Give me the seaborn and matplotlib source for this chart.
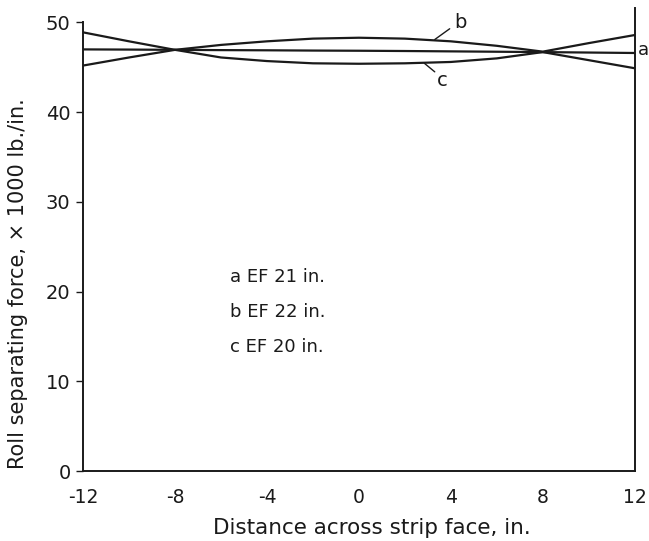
import matplotlib
matplotlib.use("Agg")
import matplotlib.pyplot as plt
import seaborn as sns
import pandas as pd

x_vals = [-12, -10, -8, -6, -4, -2, 0, 2, 4, 6, 8, 10, 12]
a_vals = [47.0, 46.98, 46.95, 46.92, 46.9, 46.87, 46.85, 46.82, 46.78, 46.74, 46.7, 46.65, 46.6]
b_vals = [48.9, 47.9, 46.95, 47.5, 47.9, 48.2, 48.3, 48.2, 47.9, 47.4, 46.75, 47.7, 48.6]
c_vals = [45.2, 46.1, 46.95, 46.1, 45.7, 45.45, 45.4, 45.45, 45.6, 46.0, 46.7, 45.8, 44.9]

legend_lines = ["a EF 21 in.", "b EF 22 in.", "c EF 20 in."]
x_ticks = [-12, -8, -4, 0, 4, 8, 12]
y_ticks = [0, 10, 20, 30, 40, 50]

df = pd.DataFrame({
    "x": x_vals * 3,
    "y": a_vals + b_vals + c_vals,
    "curve": ["a"] * len(x_vals) + ["b"] * len(x_vals) + ["c"] * len(x_vals),
})

sns.set_style("white")
plt.rcParams["font.family"] = ["DejaVu Sans"]
ink = "#1a1a1a"

fig = plt.figure(figsize=(6.49, 5.41), dpi=100)
ax = fig.add_axes([0.128, 0.129, 0.85, 0.856])
sns.lineplot(data=df, x="x", y="y", units="curve", estimator=None,
             color=ink, linewidth=1.6, ax=ax, legend=False)

ax.set_xlim(-12, 12)
ax.set_ylim(0, 51.6)
ax.set_xticks(x_ticks)
ax.set_xticklabels([str(t) for t in x_ticks])
ax.set_yticks(y_ticks)
ax.tick_params(axis="x", direction="in", length=4, width=1, labelsize=13.5, pad=12, colors=ink)
ax.tick_params(axis="y", direction="out", length=5, width=1, labelsize=14, pad=4, colors=ink, left=True)
for s in ["left", "right", "bottom"]:
    ax.spines[s].set_visible(True)
    ax.spines[s].set_color(ink)
    ax.spines[s].set_linewidth(1.4)
ax.spines["top"].set_visible(False)
ax.spines["left"].set_bounds(0, 50)

ax.set_xlabel("Distance across strip face, in.", fontsize=15.5, color=ink)
ax.xaxis.set_label_coords(0.524, -0.102)
ax.set_ylabel("Roll separating force, × 1000 lb./in.", fontsize=15, color=ink)
ax.yaxis.set_label_coords(-0.099, 0.404)

# curve labels
ax.text(4.15, 50.0, "b", fontsize=14, ha="left", va="center", color=ink)
ax.plot([3.3, 3.95], [48.1, 49.3], color=ink, lw=1)
ax.text(3.4, 43.5, "c", fontsize=14, ha="left", va="center", color=ink)
ax.plot([2.85, 3.3], [45.45, 44.5], color=ink, lw=1)
ax.text(12.12, 46.9, "a", fontsize=13, ha="left", va="center", clip_on=False, color=ink)

for i, t in enumerate(legend_lines):
    ax.text(-5.6, 21.6 - i * 3.9, t, fontsize=13, ha="left", va="center", color=ink)

fig.savefig("out.png", dpi=100)
